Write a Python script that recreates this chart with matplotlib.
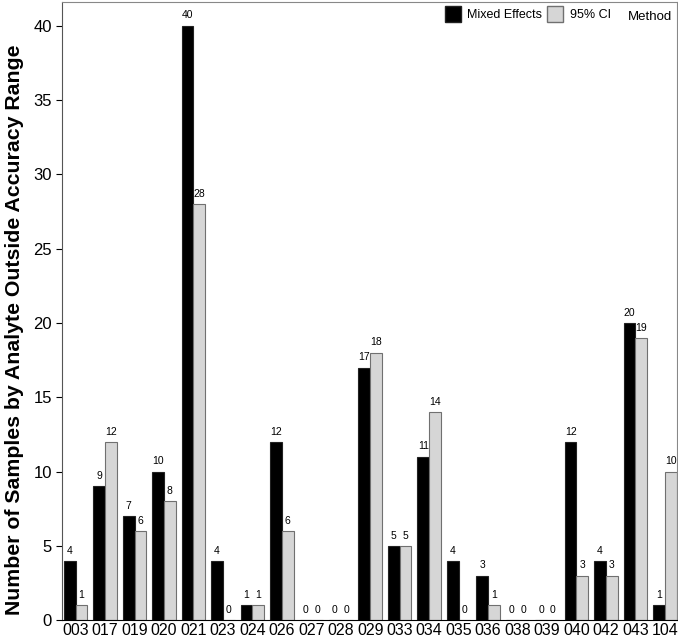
import numpy as np
import matplotlib.pyplot as plt
from matplotlib.patches import Patch

plt.rcParams['font.family'] = ['Liberation Sans', 'DejaVu Sans']

labs = ['003', '017', '019', '020', '021', '023', '024', '026', '027', '028', '029',
        '033', '034', '035', '036', '038', '039', '040', '042', '043', '104']
mixed = [4, 9, 7, 10, 40, 4, 1, 12, 0, 0, 17, 5, 11, 4, 3, 0, 0, 12, 4, 20, 1]
ci95 = [1, 12, 6, 8, 28, 0, 1, 6, 0, 0, 18, 5, 14, 0, 1, 0, 0, 3, 3, 19, 10]

fig = plt.figure(figsize=(6.78, 6.4), dpi=100)
ax = fig.add_axes([0.092, 0.031, 0.906, 0.966])

x = np.arange(len(labs))
w = 0.4
b1 = ax.bar(x - w / 2, mixed, w, color='black', edgecolor='#222222', linewidth=0.8)
b2 = ax.bar(x + w / 2, ci95, w, color='#d6d6d6', edgecolor='#707070', linewidth=0.8)
for bars, vals in [(b1, mixed), (b2, ci95)]:
    for r, v in zip(bars, vals):
        ax.text(r.get_x() + r.get_width() / 2, v + 0.35, str(v), ha='center', va='bottom',
                fontsize=7.5)

ax.set_xlim(-0.45, len(labs) - 0.6)
ax.set_ylim(0, 41.6)
ax.set_xticks(x)
ax.set_xticklabels(labs, fontsize=11.5)
ax.set_yticks([0, 5, 10, 15, 20, 25, 30, 35, 40])
ax.tick_params(axis='y', labelsize=12, length=4)
ax.tick_params(axis='x', length=0, pad=2)
ax.set_ylabel('Number of Samples by Analyte Outside Accuracy Range', fontsize=15.3,
              fontweight='bold')
ax.yaxis.set_label_coords(-0.063, 0.47)
for s in ['top', 'right']:
    ax.spines[s].set_color('#888888')
ax.spines['left'].set_color('#555555')

handles = [Patch(facecolor='black', edgecolor='#222222'),
           Patch(facecolor='#d6d6d6', edgecolor='#707070')]
ax.legend(handles, ['Mixed Effects', '95% CI'], ncol=2, frameon=False, fontsize=9,
          loc='upper left', bbox_to_anchor=(0.61, 1.005), handlelength=1.3,
          handleheight=1.5, handletextpad=0.5, columnspacing=0.4, borderaxespad=0.2)
ax.text(0.993, 0.975, 'Method', transform=ax.transAxes, ha='right', va='center', fontsize=9.5)

fig.savefig('out.png', dpi=100)
